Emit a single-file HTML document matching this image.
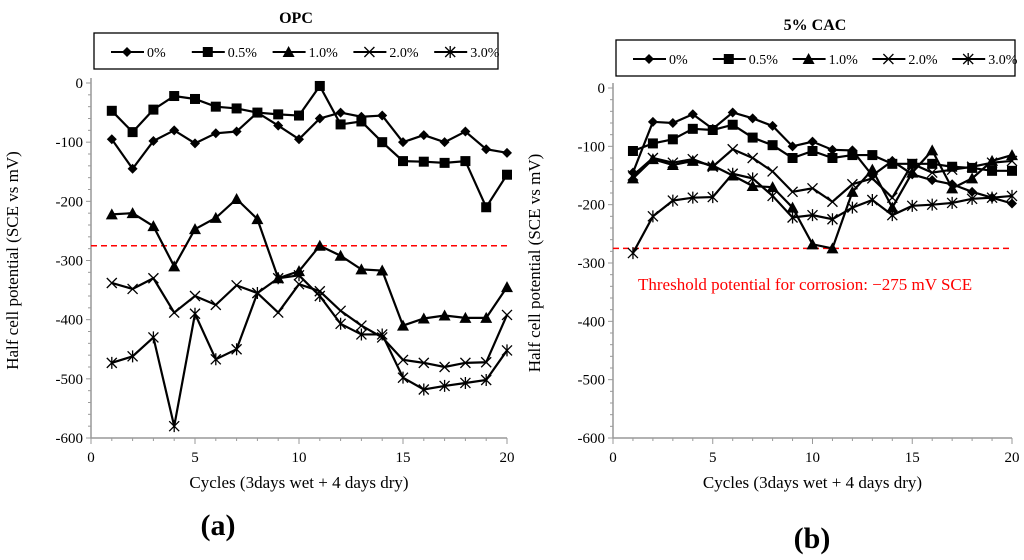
<!DOCTYPE html>
<html><head><meta charset="utf-8"><style>
body{margin:0;background:#fff;width:1024px;height:555px;overflow:hidden}
svg text{font-family:"Liberation Serif",serif}
</style></head><body>
<svg id="c" width="1024" height="555" xmlns="http://www.w3.org/2000/svg"></svg>
<script>
const cycles=[1,2,3,4,5,6,7,8,9,10,11,12,13,14,15,16,17,18,19,20];
const seriesNames=["0%","0.5%","1.0%","2.0%","3.0%"];
const markers=["diamond","square","triangle","x","star"];
const opc0=[-95,-145,-98,-80,-102,-85,-82,-50,-72,-95,-60,-50,-57,-55,-100,-88,-100,-82,-112,-118];
const opc05=[-47,-83,-45,-22,-27,-40,-43,-50,-53,-55,-5,-70,-65,-100,-132,-133,-135,-132,-210,-155];
const opc10=[-222,-220,-242,-310,-247,-228,-196,-230,-330,-318,-275,-292,-315,-317,-410,-398,-393,-397,-397,-345];
const opc20=[-338,-348,-330,-388,-360,-375,-342,-355,-388,-340,-352,-385,-410,-430,-468,-473,-480,-473,-472,-392];
const opc30=[-473,-462,-430,-580,-390,-467,-450,-355,-330,-325,-360,-407,-425,-425,-498,-518,-512,-507,-502,-452];
const cac0=[-145,-58,-60,-45,-70,-42,-52,-65,-100,-92,-106,-107,-150,-125,-148,-158,-165,-178,-188,-198];
const cac05=[-108,-95,-88,-70,-72,-63,-85,-98,-120,-108,-120,-115,-115,-130,-130,-130,-135,-137,-142,-142];
const cac10=[-155,-122,-132,-125,-133,-150,-168,-170,-205,-268,-275,-178,-140,-205,-145,-107,-172,-155,-125,-115];
const cac20=[-150,-120,-128,-122,-135,-105,-120,-143,-178,-172,-195,-165,-155,-188,-130,-145,-140,-135,-128,-125];
const cac30=[-283,-220,-193,-188,-187,-147,-155,-185,-222,-218,-225,-205,-192,-218,-202,-200,-197,-190,-188,-185];
const xTicks=[0,5,10,15,20];
const yTicks=[0,-100,-200,-300,-400,-500,-600];
const threshold=-275;

const NS="http://www.w3.org/2000/svg";
const svg=document.getElementById('c');
function el(t,a,p){const e=document.createElementNS(NS,t);for(const k in a)e.setAttribute(k,a[k]);(p||svg).appendChild(e);return e;}
function marker(g,m,x,y){
  if(m==="diamond")el('polygon',{points:`${x},${y-5} ${x+5},${y} ${x},${y+5} ${x-5},${y}`,fill:'#000'},g);
  else if(m==="square")el('rect',{x:x-5,y:y-5,width:10,height:10,fill:'#000'},g);
  else if(m==="triangle")el('polygon',{points:`${x},${y-6} ${x+6},${y+5} ${x-6},${y+5}`,fill:'#000'},g);
  else if(m==="x"){el('path',{d:`M${x-5} ${y-5}L${x+5} ${y+5}M${x+5} ${y-5}L${x-5} ${y+5}`,stroke:'#000','stroke-width':1.3},g);}
  else {el('path',{d:`M${x-5} ${y-5}L${x+5} ${y+5}M${x+5} ${y-5}L${x-5} ${y+5}M${x} ${y-6}L${x} ${y+6}`,stroke:'#000','stroke-width':1.3},g);}
}
function chart(cfg){
  const X=v=>cfg.x0+(cfg.x1-cfg.x0)*v/20;
  const Y=v=>cfg.y0+(cfg.y1-cfg.y0)*(-v)/600;
  const g=el('g',{});
  
  
  const ax=el('path',{d:`M${X(0)} ${Y(0)-5}L${X(0)} ${Y(-600)}L${X(20)} ${Y(-600)}`,stroke:'#999',fill:'none','stroke-width':1.5},g);
  
  for(let v=0;v>=-600;v-=20){el('line',{x1:X(0)-(v%100===0?5:3),x2:X(0),y1:Y(v),y2:Y(v),stroke:'#999'},g);}
  for(let v=0;v<=20;v++){el('line',{x1:X(v),x2:X(v),y1:Y(-600),y2:Y(-600)+(v%5===0?6:3),stroke:'#999'},g);}
  yTicks.forEach(v=>{const t=el('text',{x:X(0)-8,y:Y(v)+5,'text-anchor':'end','font-size':15},g);t.textContent=v===0?'0':'-'+(-v);
    });
  xTicks.forEach(v=>{const t=el('text',{x:X(v),y:Y(-600)+24,'text-anchor':'middle','font-size':15},g);t.textContent=v;
    });
  const xt=el('text',{x:(X(0)+X(20))/2,y:Y(-600)+50,'text-anchor':'middle','font-size':17},g);xt.textContent='Cycles (3days wet  + 4 days dry)';
  
  const yx=cfg.x0-73, yy=(Y(0)+Y(-600))/2;
  const yt=el('text',{x:yx,y:yy,'text-anchor':'middle','font-size':17,transform:`rotate(-90 ${yx} ${yy})`},g);yt.textContent='Half cell potential (SCE vs mV)';
  
  const th=el('line',{x1:X(0),x2:X(20),y1:Y(threshold),y2:Y(threshold),stroke:'#f00','stroke-width':1.5,'stroke-dasharray':'6 4'},g);
  
  cfg.series.forEach((s,i)=>{
    const sg=el('g',{},g);
    
    el('polyline',{points:s.map((v,j)=>X(cycles[j])+','+Y(v)).join(' '),fill:'none',stroke:'#000','stroke-width':2.2},sg);
    s.forEach((v,j)=>marker(sg,markers[i],X(cycles[j]),Y(v)));
  });
  const lg=el('g',{},g);
  el('rect',{x:cfg.lx,y:cfg.ly,width:cfg.lw,height:36,fill:'#fff',stroke:'#000','stroke-width':1.3},lg);
  const step=cfg.lw/5;
  seriesNames.forEach((n,i)=>{
    const bx=cfg.lx+17+i*step, cy=cfg.ly+19;
    const eg=el('g',{},lg);
    el('line',{x1:bx,x2:bx+33,y1:cy,y2:cy,stroke:'#000','stroke-width':2},eg);
    marker(eg,markers[i],bx+16,cy);
    const t=el('text',{x:bx+36,y:cy+5,'font-size':14},eg);t.textContent=n;
  });
  const tt=el('text',{x:cfg.tx,y:cfg.ty,'text-anchor':'middle','font-size':16,'font-weight':'bold'},g);tt.textContent=cfg.title;
  
  const pl=el('text',{x:cfg.px,y:cfg.py,'text-anchor':'middle','font-size':30,'font-weight':'bold'},g);pl.textContent=cfg.panel;
  
  return {X,Y,g};
}
chart({name:'opc-chart',x0:91,x1:507,y0:83,y1:438,series:[opc0,opc05,opc10,opc20,opc30],lx:94,ly:33,lw:404,tx:296,ty:23,title:'OPC',px:218,py:535,panel:'(a)'});
const r=chart({name:'cac-chart',x0:613,x1:1012,y0:88,y1:438,series:[cac0,cac05,cac10,cac20,cac30],lx:616,ly:40,lw:399,tx:815,ty:30,title:'5% CAC',px:812,py:548,panel:'(b)'});
const ann=el('text',{x:638,y:290,fill:'#f00','font-size':17},r.g);ann.textContent='Threshold potential for corrosion: \u2212275 mV SCE';


</script>
</body></html>
